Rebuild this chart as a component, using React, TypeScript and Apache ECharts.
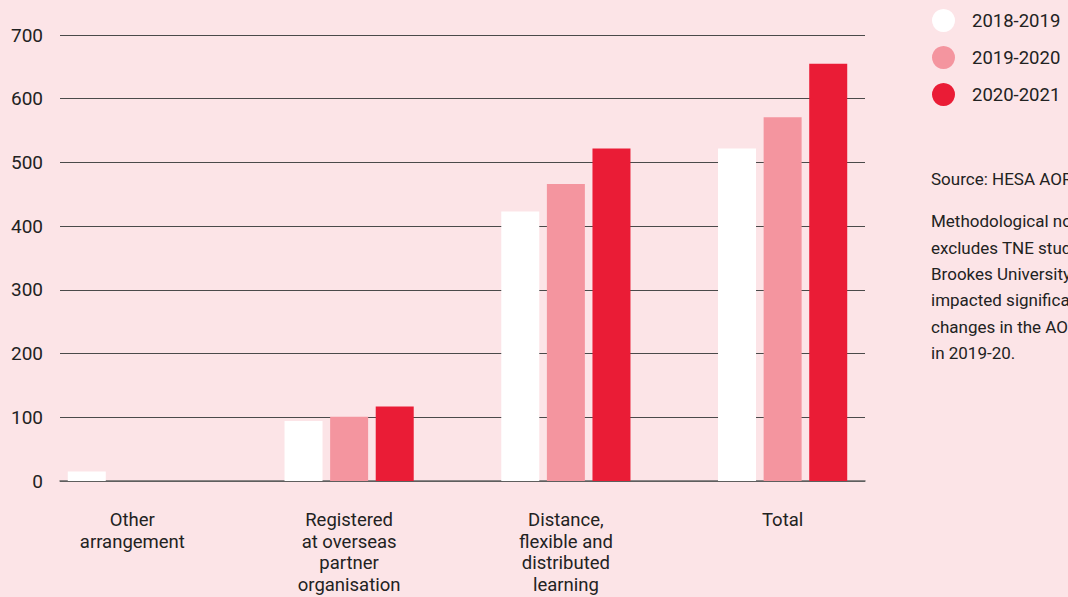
import React, { useEffect, useRef } from "react";
import * as echarts from "echarts";

const categories = [
  "Other\narrangement",
  "Registered\nat overseas\npartner\norganisation",
  "Distance,\nflexible and\ndistributed\nlearning",
  "Total",
];
const seriesNames = ["2018-2019", "2019-2020", "2020-2021"];
const values2018 = [15, 94, 423, 522];
const values2019 = [0, 101, 466, 571];
const values2020 = [0, 117, 522, 655];
const seriesColors = ["#ffffff", "#f4959f", "#ea1c36"];
const yTicks = [0, 100, 200, 300, 400, 500, 600, 700];
const sourceText = "Source: HESA AOR";
const noteLines = [
  "Methodological note: this chart",
  "excludes TNE students at Oxford",
  "Brookes University, which has",
  "impacted significantly on the",
  "changes in the AOR population",
  "in 2019-20.",
];

const FONT = "Roboto, 'Open Sans', sans-serif";

export default function App() {
  const ref = useRef<HTMLDivElement>(null);
  useEffect(() => {
    document.body.style.margin = "0";
    const chart = echarts.init(ref.current!, undefined, { renderer: "svg" });
    const seriesData = [values2018, values2019, values2020];
    chart.setOption({
      animation: false,
      backgroundColor: "#fce4e7",
      textStyle: { fontFamily: FONT },
      grid: [
        { left: 60, width: 805, top: 35, bottom: 116 },
        { left: 24, width: 867, top: 35, bottom: 116 },
      ],
      legend: {
        orient: "vertical",
        left: 927,
        top: 4,
        itemWidth: 23,
        itemHeight: 23,
        itemGap: 14,
        icon: "circle",
        data: seriesNames,
        textStyle: { fontSize: 18.5, color: "#222", fontFamily: FONT, padding: [0, 0, 0, 12] },
      },
      xAxis: [
        {
          type: "category",
          gridIndex: 0,
          data: categories,
          axisLine: { show: true, lineStyle: { color: "#666", width: 1.5 } },
          axisTick: { show: false },
          axisLabel: { show: false },
        },
        {
          type: "category",
          gridIndex: 1,
          data: categories,
          axisLine: { show: false },
          axisTick: { show: false },
          axisLabel: {
            interval: 0,
            fontSize: 18.5,
            lineHeight: 21.7,
            color: "#222",
            margin: 28,
            fontFamily: FONT,
            align: "center",
          },
        },
      ],
      yAxis: [
        {
          type: "value",
          gridIndex: 0,
          min: yTicks[0],
          max: yTicks[yTicks.length - 1],
          interval: 100,
          axisLine: { show: false },
          axisTick: { show: false },
          axisLabel: { fontSize: 19, color: "#222", margin: 17, fontFamily: FONT },
          splitLine: { show: true, lineStyle: { color: "#4a4a4a", width: 1.2 } },
        },
        {
          type: "value",
          gridIndex: 1,
          min: yTicks[0],
          max: yTicks[yTicks.length - 1],
          interval: 100,
          show: false,
          splitLine: { show: false },
        },
      ],
      series: seriesNames.map((name, i) => ({
        name,
        type: "bar",
        xAxisIndex: 1,
        yAxisIndex: 1,
        data: seriesData[i],
        barWidth: 38,
        barGap: "20%",
        itemStyle: { color: seriesColors[i] },
      })),
      graphic: [
        {
          type: "text",
          left: 931,
          top: 170,
          style: { text: sourceText, fontSize: 17, fill: "#222", fontFamily: FONT },
        },
        {
          type: "text",
          left: 931,
          top: 208,
          style: {
            text: noteLines.join("\n"),
            fontSize: 17,
            lineHeight: 26.4,
            fill: "#222",
            fontFamily: FONT,
          },
        },
      ],
    });
    return () => chart.dispose();
  }, []);
  return <div ref={ref} style={{ width: 1068, height: 597 }} />;
}
